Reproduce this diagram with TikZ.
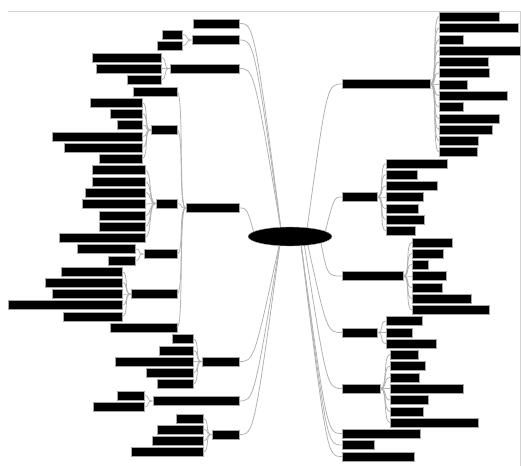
\documentclass[tikz,border=0pt]{standalone}
\usetikzlibrary{shapes.geometric,backgrounds}
\begin{document}
\begin{tikzpicture}[
    x=1pt, y=-1pt,
    bar/.style={rectangle, fill=black, draw=gray!70, line width=0.5pt, minimum height=9pt, inner sep=0pt},
    lbar/.style={bar, anchor=east},
    rbar/.style={bar, anchor=west},
    link/.style={draw=gray!60, line width=0.8pt}
]
\useasboundingbox (0,0) rectangle (521,466);
\draw [gray!35, line width=0.8pt] (8,11) -- (520,11) -- (520,466);

\node (root) [ellipse, fill=black, draw=gray!70, minimum width=84pt, minimum height=19pt, inner sep=0pt] at (290,236.5) {};

% left main branches
\node (l1) [lbar, minimum width=46] at (239,23.5) {};
\node (l2) [lbar, minimum width=47] at (239,40) {};
\node (l3) [lbar, minimum width=69] at (239,68.5) {};
\node (l4) [lbar, minimum width=53] at (239,208) {};
\node (l5) [lbar, minimum width=37] at (239,361.5) {};
\node (l6) [lbar, minimum width=86] at (239,401) {};
\node (l7) [lbar, minimum width=27] at (239,434.5) {};

% right main branches
\node (r1) [rbar, minimum width=88] at (342,84) {};
\node (r2) [rbar, minimum width=35] at (342,197) {};
\node (r3) [rbar, minimum width=61] at (342,276) {};
\node (r4) [rbar, minimum width=35] at (342,332.5) {};
\node (r5) [rbar, minimum width=38] at (342,388.5) {};
\node (r6) [rbar, minimum width=78] at (342,433.5) {};
\node (r7) [rbar, minimum width=32] at (342,445) {};
\node (r8) [rbar, minimum width=72] at (342,456.5) {};

% second level under l4
\node (l4-1) [lbar, minimum width=44] at (177,91.5) {};
\node (l4-2) [lbar, minimum width=26] at (177,130) {};
\node (l4-3) [lbar, minimum width=21] at (177,203.5) {};
\node (l4-4) [lbar, minimum width=33] at (177,254) {};
\node (l4-5) [lbar, minimum width=46] at (177,294) {};
\node (l4-6) [lbar, minimum width=67] at (177,327.5) {};
\foreach \i in {1,...,6}
  \draw [link] (l4.west) .. controls +(-7,0) and +(7,0) .. (l4-\i.east);

% leaves on the left
\foreach \p/\x/\list in {l2/182/{20/34.5, 25/45.5},
    l3/161/{69/57.5, 65/68.5, 34/79.5},
    l4-2/142/{52/102.5, 32/113.5, 25/125, 90/136.5, 78/147.5, 43/158.5},
    l4-3/145/{53/170, 53/181.5, 60/192.5, 63/204, 46/215.5, 46/226.5, 86/237.5},
    l4-4/135/{58/249, 27/260.5},
    l4-5/122/{61/271.5, 77/282.5, 70/294, 114/305, 59/316.5},
    l5/193/{21/338.5, 34/350.5, 78/361.5, 47/372.5, 36/384},
    l6/144/{27/395.5, 51/406.5},
    l7/203/{27/418.5, 46/429.5, 51/440.5, 72/452}}
  \foreach \w/\y [count=\i] in \list {
    \node (\p-\i) [lbar, minimum width=\w] at (\x,\y) {};
    \draw [link] (\p.west) .. controls +(-7,0) and +(7,0) .. (\p-\i.east);
  }

% leaves on the right
\foreach \p/\x/\list in {r1/439/{60/16.5, 79/28, 24/39.5, 81/50.5, 49/62, 50/73, 28/84.5, 68/95.5, 24/107, 60/118.5, 53/129.5, 39/140.5, 38/152},
    r2/386/{61/163.5, 31/174.5, 51/186, 37/197, 32/208.5, 38/219.5, 29/231},
    r3/412/{40/242.5, 31/253.5, 16/264.5, 34/276, 30/287.5, 59/298.5, 77/310},
    r4/386/{36/321, 26/332.5, 50/343.5},
    r5/390/{28/354.5, 35/366, 29/377.5, 73/388.5, 38/400, 33/411.5, 88/422.5}}
  \foreach \w/\y [count=\i] in \list {
    \node (\p-\i) [rbar, minimum width=\w] at (\x,\y) {};
    \draw [link] (\p.east) .. controls +(7,0) and +(-7,0) .. (\p-\i.west);
  }

% main branches to the root
\begin{scope}[on background layer]
\foreach \n/\c/\s in {l1/15/-8, l2/15/-8, l3/15/-8, l4/8/-35, l5/15/-9, l6/15/-9, l7/15/-9}
  \draw [link] (\n.east) .. controls +(\c,0) .. ([xshift=\s]root.center);
\foreach \n/\c/\s in {r1/15/16, r2/8/34, r3/15/30, r4/15/16, r5/15/13, r6/15/10, r7/15/10, r8/15/10}
  \draw [link] (\n.west) .. controls +(-\c,0) .. ([xshift=\s]root.center);
\end{scope}

\end{tikzpicture}
\end{document}
